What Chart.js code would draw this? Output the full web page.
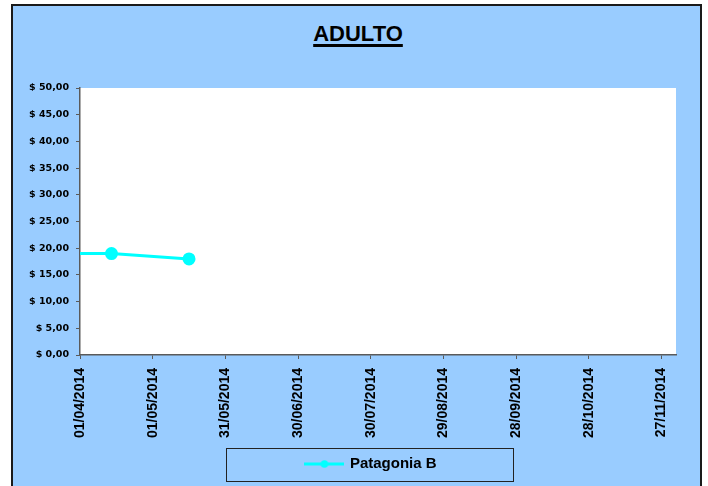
<!DOCTYPE html>
<html>
<head>
<meta charset="utf-8">
<script src="https://cdn.jsdelivr.net/npm/chart.js@4/dist/chart.umd.min.js"></script>
<style>
  html, body { margin: 0; padding: 0; background: #ffffff; }
  #wrap { position: relative; width: 708px; height: 486px; overflow: hidden; }
  #frame { position: absolute; left: 11px; top: 4px; width: 687px; height: 500px;
           background: #99CCFF; border: 2px solid #1a1a1a; border-bottom: none; }
  #title { position: absolute; left: 0; top: 21px; width: 716px; text-align: center;
           font-family: "Liberation Sans", Arial, sans-serif; font-weight: bold; font-size: 22px;
           color: #000; text-decoration: underline; text-decoration-thickness: 3px;
           text-underline-offset: 3px; line-height: 26px; }
  #c { position: absolute; left: 0; top: 0; }
</style>
</head>
<body>
<div id="wrap">
  <div id="frame"></div>
  <div id="title">ADULTO</div>
  <canvas id="c" width="708" height="486"></canvas>
</div>
<script>
// ---- data ----
const seriesName = 'Patagonia B';
const seriesDates = ['15/03/2014', '14/04/2014', '16/05/2014'];
const seriesValues = [19, 19, 18];
const xTickDates = ['01/04/2014', '01/05/2014', '31/05/2014', '30/06/2014', '30/07/2014',
                    '29/08/2014', '28/09/2014', '28/10/2014', '27/11/2014'];
const xMinDate = '01/04/2014';
const xMaxDate = '03/12/2014';
const yMin = 0, yMax = 50, yStep = 5;

// ---- helpers ----
function toDay(s) {
  const p = s.split('/');
  return Date.UTC(+p[2], +p[1] - 1, +p[0]) / 86400000;
}
function fromDay(d) {
  const dt = new Date(Math.round(d) * 86400000);
  const dd = String(dt.getUTCDate()).padStart(2, '0');
  const mm = String(dt.getUTCMonth() + 1).padStart(2, '0');
  return dd + '/' + mm + '/' + dt.getUTCFullYear();
}

const points = seriesDates.map((d, i) => ({ x: toDay(d), y: seriesValues[i] }));
const xTicks = xTickDates.map(toDay);

// legend symbol: line with a dot
const sym = document.createElement('canvas');
sym.width = 40; sym.height = 12;
(function () {
  const g = sym.getContext('2d');
  g.strokeStyle = '#00FFFF'; g.lineWidth = 3;
  g.beginPath(); g.moveTo(0, 6); g.lineTo(40, 6); g.stroke();
  g.fillStyle = '#00FFFF';
  g.beginPath(); g.arc(20, 6, 3.8, 0, Math.PI * 2); g.fill();
})();

const LEGEND_SHIFT = 23.5;

const plotBg = {
  id: 'plotBg',
  afterLayout(chart) {
    const lg = chart.legend;
    if (lg) { lg.left += LEGEND_SHIFT; lg.right += LEGEND_SHIFT; }
  },
  beforeDraw(chart) {
    const a = chart.chartArea, ctx = chart.ctx;
    ctx.save();
    ctx.fillStyle = '#ffffff';
    ctx.fillRect(a.left, a.top, a.right - a.left, a.bottom - a.top);
    ctx.restore();
  },
  afterDraw(chart) {
    const lg = chart.legend;
    if (!lg) return;
    const cx = (lg.left + lg.right) / 2 - 2;
    const cy = lg.top + 10 + 7.5;
    const ctx = chart.ctx;
    ctx.save();
    ctx.strokeStyle = '#222';
    ctx.lineWidth = 1;
    ctx.strokeRect(Math.round(cx - 143.5) + 0.5, Math.round(cy - 16.5) + 0.5, 287, 33);
    ctx.restore();
  }
};

const axisColor = '#5a5a5a';

new Chart(document.getElementById('c'), {
  type: 'line',
  data: {
    datasets: [{
      label: seriesName,
      data: points,
      borderColor: '#00FFFF',
      backgroundColor: '#00FFFF',
      borderWidth: 3,
      pointRadius: 5,
      pointHoverRadius: 5,
      pointBackgroundColor: '#00FFFF',
      pointBorderColor: '#00FFFF',
      tension: 0,
      fill: false
    }]
  },
  options: {
    responsive: false,
    animation: false,
    devicePixelRatio: 1,
    layout: { padding: { left: 20, right: 32, top: 88, bottom: 4.5 } },
    plugins: {
      title: { display: false },
      tooltip: { enabled: false },
      legend: {
        display: true,
        position: 'bottom',
        labels: {
          usePointStyle: true,
          pointStyleWidth: 36,
          padding: 10,
          color: '#000',
          font: { family: '"Liberation Sans", Arial, sans-serif', weight: 'bold', size: 15 },
          generateLabels(chart) {
            return chart.data.datasets.map((ds, i) => ({
              text: ds.label,
              pointStyle: sym,
              fillStyle: ds.borderColor,
              strokeStyle: ds.borderColor,
              lineWidth: 0,
              hidden: false,
              datasetIndex: i,
              fontColor: '#000'
            }));
          }
        }
      }
    },
    scales: {
      x: {
        type: 'linear',
        min: toDay(xMinDate),
        max: toDay(xMaxDate),
        afterBuildTicks(scale) { scale.ticks = xTicks.map(v => ({ value: v })); },
        afterFit(scale) { scale.height = 91.5; },
        ticks: {
          autoSkip: false,
          maxRotation: 90,
          minRotation: 90,
          padding: 9,
          color: '#000',
          font: { family: '"Liberation Sans", Arial, sans-serif', weight: 'bold', size: 14 },
          callback: (v) => fromDay(v)
        },
        grid: { display: true, drawOnChartArea: false, drawTicks: true, tickLength: 4, color: axisColor, lineWidth: 1 },
        border: { display: true, color: axisColor, width: 1.5 }
      },
      y: {
        min: yMin,
        max: yMax,
        afterFit(scale) { scale.width = 60; },
        ticks: {
          stepSize: yStep,
          padding: 7,
          color: '#000',
          font: { family: '"DejaVu Sans", sans-serif', weight: 'bold', size: 9.5 },
          callback: (v) => '$ ' + Number(v).toFixed(2).replace('.', ',')
        },
        grid: { display: true, drawOnChartArea: false, drawTicks: true, tickLength: 4, color: axisColor, lineWidth: 1 },
        border: { display: true, color: axisColor, width: 1.5 }
      }
    }
  },
  plugins: [plotBg]
});
</script>
</body>
</html>
